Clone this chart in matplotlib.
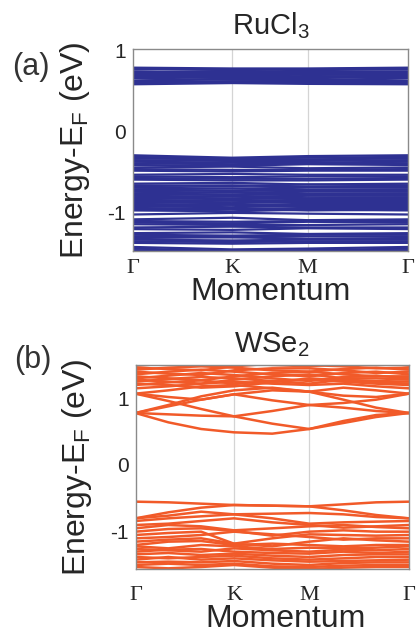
import matplotlib
matplotlib.use('Agg')
import matplotlib.pyplot as plt

plt.rcParams['font.family'] = ['Liberation Sans', 'DejaVu Sans']
plt.rcParams['mathtext.fontset'] = 'custom'
plt.rcParams['mathtext.rm'] = 'Liberation Sans'
plt.rcParams['mathtext.it'] = 'Liberation Sans:italic'

# high symmetry path (fraction of total path length)
k_ticks = [0.0, 0.36, 0.635, 1.0]
k_labels = ['Γ', 'K', 'M', 'Γ']

# --- RuCl3: energies (eV) at Gamma, K, M for each band ---
ru_cb_gam = [0.79, 0.78, 0.77, 0.745, 0.73, 0.72, 0.71, 0.70, 0.69, 0.68, 0.67, 0.655, 0.625, 0.615, 0.60, 0.585]
ru_cb_k = [0.78, 0.76, 0.77, 0.73, 0.75, 0.71, 0.72, 0.69, 0.70, 0.66, 0.67, 0.64, 0.65, 0.62, 0.61, 0.60]
ru_cb_m = [0.78, 0.77, 0.76, 0.74, 0.73, 0.72, 0.70, 0.71, 0.68, 0.66, 0.67, 0.64, 0.63, 0.62, 0.61, 0.59]

ru_vb_gam = [-0.29, -0.31, -0.33, -0.35, -0.37, -0.39, -0.41,
             -0.44, -0.46, -0.48,
             -0.53, -0.55, -0.57, -0.59,
             -0.64, -0.66, -0.67, -0.69, -0.71, -0.72, -0.74, -0.76, -0.77, -0.79, -0.81,
             -0.82, -0.84, -0.86, -0.87, -0.89, -0.91, -0.92, -0.94, -0.96, -0.97,
             -1.02, -1.08, -1.10, -1.12, -1.14, -1.18, -1.20,
             -1.25, -1.27, -1.29, -1.31, -1.33, -1.35, -1.37,
             -1.42, -1.44, -1.46]
ru_vb_k = [-0.32, -0.33, -0.34, -0.36, -0.38, -0.40, -0.42,
           -0.43, -0.47, -0.49,
           -0.52, -0.56, -0.58, -0.60,
           -0.63, -0.67, -0.66, -0.70, -0.70, -0.73, -0.75, -0.75, -0.78, -0.80, -0.80,
           -0.83, -0.85, -0.85, -0.88, -0.90, -0.90, -0.93, -0.95, -0.95, -0.98,
           -1.00, -1.06, -1.11, -1.13, -1.15, -1.17, -1.21,
           -1.24, -1.28, -1.30, -1.30, -1.34, -1.36, -1.38,
           -1.45, -1.47, -1.48]
ru_vb_m = [-0.30, -0.32, -0.34, -0.36, -0.38, -0.39, -0.40,
           -0.45, -0.47, -0.48,
           -0.53, -0.55, -0.58, -0.60,
           -0.65, -0.65, -0.68, -0.69, -0.72, -0.72, -0.74, -0.77, -0.77, -0.79, -0.82,
           -0.82, -0.84, -0.87, -0.86, -0.89, -0.92, -0.91, -0.94, -0.97, -0.96,
           -1.01, -1.09, -1.10, -1.11, -1.15, -1.18, -1.19,
           -1.26, -1.27, -1.29, -1.32, -1.33, -1.35, -1.37,
           -1.44, -1.46, -1.47]

# --- WSe2: energies (eV) sampled along the path at ws_k ---
ws_k = [0.0, 0.12, 0.24, 0.36, 0.50, 0.635, 0.76, 0.88, 1.0]

ws_cb = [
    [0.78, 0.64, 0.54, 0.49, 0.47, 0.54, 0.63, 0.72, 0.78],
    [0.78, 0.76, 0.74, 0.73, 0.81, 0.90, 0.86, 0.81, 0.78],
    [1.07, 0.96, 0.84, 0.73, 0.62, 0.54, 0.66, 0.75, 0.78],
    [0.78, 0.88, 0.98, 1.06, 0.97, 0.90, 0.93, 0.98, 1.07],
    [0.78, 0.90, 1.03, 1.12, 1.16, 1.10, 0.98, 0.86, 0.78],
    [1.07, 1.02, 0.98, 1.06, 1.12, 1.10, 1.04, 1.02, 1.07],
    [1.07, 1.12, 1.18, 1.20, 1.15, 1.10, 1.16, 1.12, 1.07],
    [1.15, 1.18, 1.22, 1.25, 1.22, 1.20, 1.22, 1.18, 1.15],
    [1.20, 1.24, 1.27, 1.22, 1.26, 1.28, 1.25, 1.22, 1.20],
    [1.22, 1.20, 1.16, 1.18, 1.24, 1.30, 1.27, 1.24, 1.22],
    [1.25, 1.29, 1.32, 1.30, 1.26, 1.22, 1.28, 1.26, 1.25],
    [1.28, 1.25, 1.22, 1.28, 1.33, 1.36, 1.30, 1.30, 1.28],
    [1.30, 1.34, 1.38, 1.35, 1.30, 1.26, 1.32, 1.34, 1.30],
    [1.33, 1.30, 1.27, 1.33, 1.38, 1.40, 1.36, 1.33, 1.33],
    [1.36, 1.40, 1.43, 1.40, 1.36, 1.33, 1.38, 1.40, 1.36],
    [1.40, 1.37, 1.35, 1.42, 1.45, 1.45, 1.42, 1.38, 1.40],
    [1.43, 1.46, 1.48, 1.46, 1.42, 1.40, 1.44, 1.46, 1.43],
    [1.46, 1.44, 1.42, 1.48, 1.52, 1.50, 1.48, 1.45, 1.46],
    [1.49, 1.52, 1.55, 1.53, 1.50, 1.48, 1.52, 1.55, 1.49],
]

ws_vb = [
    [-0.55, -0.56, -0.58, -0.60, -0.61, -0.62, -0.59, -0.56, -0.55],
    [-0.80, -0.71, -0.64, -0.60, -0.61, -0.62, -0.68, -0.75, -0.80],
    [-0.80, -0.76, -0.70, -0.74, -0.73, -0.72, -0.74, -0.78, -0.80],
    [-0.84, -0.80, -0.77, -0.74, -0.80, -0.88, -0.86, -0.85, -0.84],
    [-0.90, -0.88, -0.84, -0.80, -0.86, -0.90, -0.94, -0.92, -0.90],
    [-0.95, -0.90, -0.92, -0.98, -0.95, -0.92, -0.90, -0.93, -0.95],
    [-1.00, -0.96, -0.95, -0.99, -1.06, -1.00, -0.98, -1.00, -1.00],
    [-1.05, -1.02, -1.00, -1.18, -1.10, -1.04, -1.05, -1.06, -1.05],
    [-1.10, -1.08, -1.05, -1.00, -1.04, -1.08, -1.12, -1.10, -1.10],
    [-1.15, -1.12, -1.10, -1.18, -1.22, -1.15, -1.10, -1.13, -1.15],
    [-1.20, -1.15, -1.14, -1.20, -1.18, -1.20, -1.22, -1.20, -1.20],
    [-1.22, -1.25, -1.20, -1.22, -1.26, -1.24, -1.25, -1.24, -1.22],
    [-1.26, -1.28, -1.30, -1.25, -1.28, -1.30, -1.27, -1.28, -1.26],
    [-1.30, -1.27, -1.26, -1.30, -1.32, -1.33, -1.30, -1.32, -1.30],
    [-1.34, -1.32, -1.35, -1.33, -1.36, -1.38, -1.35, -1.34, -1.34],
    [-1.38, -1.40, -1.38, -1.36, -1.40, -1.42, -1.40, -1.38, -1.38],
    [-1.42, -1.38, -1.42, -1.40, -1.43, -1.45, -1.44, -1.43, -1.42],
    [-1.46, -1.45, -1.46, -1.44, -1.48, -1.50, -1.47, -1.46, -1.46],
    [-1.50, -1.48, -1.50, -1.48, -1.52, -1.53, -1.51, -1.50, -1.50],
    [-1.53, -1.55, -1.53, -1.50, -1.54, -1.56, -1.54, -1.53, -1.53],
]

ru_color = '#2e3192'
ws_color = '#f15a29'
text_color = '#262626'


def style_axes(ax, ylim, title, title_pad, xlabel_pos, tick_pad):
    ax.set_xlim(0, 1)
    ax.set_ylim(*ylim)
    for x in k_ticks[1:3]:
        ax.axvline(x, color='#d4d4d4', lw=0.9, zorder=0)
    ax.set_xticks(k_ticks)
    ax.set_xticklabels(k_labels, fontfamily='Liberation Serif', fontsize=16)
    ax.set_yticks([-1, 0, 1])
    ax.set_yticklabels(['-1', '0', '1'], fontsize=15)
    ax.tick_params(axis='both', length=0, colors=text_color)
    ax.tick_params(axis='x', pad=tick_pad)
    ax.tick_params(axis='y', pad=5)
    for s in ax.spines.values():
        s.set_color('#8a8a8a')
        s.set_linewidth(1.0)
    ax.set_title(title, fontsize=21, color=text_color, pad=title_pad)
    ax.set_xlabel('Momentum', fontsize=23, color=text_color)
    ax.xaxis.set_label_coords(*xlabel_pos)
    ax.set_ylabel('Energy-E$_\\mathrm{F}$ (eV)', fontsize=23, color=text_color)
    ax.yaxis.set_label_coords(-0.15, 0.5)


fig = plt.figure(figsize=(4.18, 6.34), dpi=100)
ax1 = fig.add_axes([133 / 418, 1 - 251 / 634, 275 / 418, 202 / 634])
ax2 = fig.add_axes([135.5 / 418, 1 - 569 / 634, 273.5 / 418, 204 / 634])

# panel (a) RuCl3
for g, k, m in zip(ru_cb_gam, ru_cb_k, ru_cb_m):
    ax1.plot(k_ticks, [g, k, m, g], color=ru_color, lw=1.6)
for g, k, m in zip(ru_vb_gam, ru_vb_k, ru_vb_m):
    ax1.plot(k_ticks, [g, k, m, g], color=ru_color, lw=1.6)
style_axes(ax1, (-1.47, 1.02), 'RuCl$_3$', 11, (0.5, -0.13), 6)

# panel (b) WSe2
for band in ws_cb + ws_vb:
    ax2.plot(ws_k, band, color=ws_color, lw=1.8)
style_axes(ax2, (-1.56, 1.5), 'WSe$_2$', 9, (0.55, -0.17), 12)

fig.text(12 / 418, 1 - 67 / 634, '(a)', fontsize=22, color='#333333', va='center')
fig.text(14 / 418, 1 - 360 / 634, '(b)', fontsize=22, color='#333333', va='center')

fig.savefig('out.png', dpi=100)
